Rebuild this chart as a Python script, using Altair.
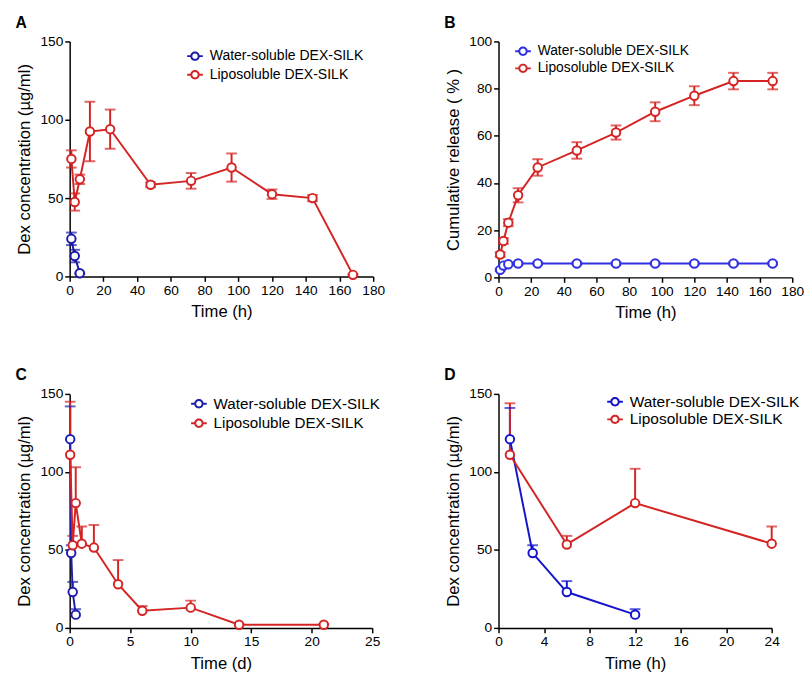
import altair as alt
import pandas as pd

WATER = "Water-soluble DEX-SILK"
LIPO = "Liposoluble DEX-SILK"

# Panel A: concentration (h)
A_water_t = [1, 3, 6]
A_water_v = [24, 13, 2]
A_water_e = [4, 4, 0.5]
A_lipo_t = [1, 3, 6, 12, 24, 48, 72, 96, 120, 144, 168]
A_lipo_v = [75, 47.5, 62, 92.5, 94, 58.5, 61, 69.5, 52.5, 50, 1]
A_lipo_e = [5.5, 5.5, 3, 19, 12.5, 1.5, 5, 9, 3, 2, 0.5]

# Panel B: cumulative release (%)
B_water_t = [1, 3, 6, 12, 24, 48, 72, 96, 120, 144, 168]
B_water_v = [3.2, 5, 5.6, 5.9, 5.9, 5.9, 5.9, 5.9, 5.9, 5.9, 5.9]
B_water_e = [0.5, 0.5, 0.5, 0.5, 0.5, 0.5, 0.5, 0.5, 0.5, 0.5, 0.5]
B_lipo_t = [1, 3, 6, 12, 24, 48, 72, 96, 120, 144, 168]
B_lipo_v = [9.7, 15.4, 23.2, 34.8, 46.6, 53.8, 61.4, 70.2, 77, 83.2, 83.2]
B_lipo_e = [1, 1.2, 1.5, 3, 3.5, 3.5, 3, 4, 4, 3.5, 3.5]

# Panel C: concentration (d), upper error only
C_water_t = [0.042, 0.125, 0.25, 0.5]
C_water_v = [121, 48, 23, 8.5]
C_water_hi = [142, 53, 29.5, 12]
C_lipo_t = [0.042, 0.25, 0.5, 1, 2, 4, 6, 10, 14, 21]
C_lipo_v = [111, 53, 80, 54, 51.5, 28, 11, 13, 2, 2]
C_lipo_hi = [145, 59, 103, 65, 66, 43.5, 14, 17.5, 2.5, 2.5]

# Panel D: concentration (h), upper error only
D_water_t = [1, 3, 6, 12]
D_water_v = [121, 48, 23, 8.5]
D_water_hi = [141, 53, 30, 12]
D_lipo_t = [1, 6, 12, 24]
D_lipo_v = [111, 53.5, 80, 54]
D_lipo_hi = [144, 59, 102, 65]

RED = "#d42424"
FONT = "Liberation Sans"
# legend glyph: short line - open ring - short line (drawn as filled shapes)
SYMBOL = ("M-1,-0.125L-0.55,-0.125L-0.55,0.125L-1,0.125Z"
          "M0.55,-0.125L1,-0.125L1,0.125L0.55,0.125Z"
          "M-0.6,0A0.6,0.6,0,1,1,0.6,0A0.6,0.6,0,1,1,-0.6,0Z"
          "M-0.35,0A0.35,0.35,0,1,0,0.35,0A0.35,0.35,0,1,0,-0.35,0Z")


def frame(series):
    rows = []
    for name, t, v, lo, hi in series:
        for i in range(len(t)):
            rows.append({"t": t[i], "v": v[i], "lo": lo[i], "hi": hi[i], "s": name})
    return pd.DataFrame(rows)


def sym(t, v, e):
    return ([a - b for a, b in zip(v, e)], [a + b for a, b in zip(v, e)])


def panel(df, letter, xdom, xstep, ydom, ystep, xtitle, ytitle, blue,
          w, h, lx, ly, lfs, lrow, both):
    scale = alt.Scale(domain=[WATER, LIPO], range=[blue, RED])
    stroke = alt.Stroke("s:N", scale=scale,
                        legend=alt.Legend(title=None, orient="none", legendX=lx, legendY=ly,
                                          symbolType=SYMBOL, symbolSize=256,
                                          symbolStrokeWidth=0, symbolOpacity=1,
                                          labelFontSize=lfs, labelFont=FONT,
                                          labelColor="black", rowPadding=lrow,
                                          labelOffset=7, labelLimit=400))
    color = alt.Color("s:N", scale=scale, legend=None)
    x = alt.X("t:Q", scale=alt.Scale(domain=xdom, nice=False),
              axis=alt.Axis(values=list(range(xdom[0], xdom[1] + 1, xstep)), title=xtitle,
                            labelOverlap=False, labelFlush=False))
    y = alt.Y("v:Q", scale=alt.Scale(domain=ydom, nice=False),
              axis=alt.Axis(values=list(range(ydom[0], ydom[1] + 1, ystep)), title=ytitle,
                            labelOverlap=False, labelFlush=False))
    base = alt.Chart(df)
    ylo = "lo:Q" if both else "v:Q"
    rule = base.mark_rule(strokeWidth=2).encode(
        x=x, y=alt.Y(ylo), y2="hi:Q", stroke=stroke)
    cap_hi = base.mark_tick(orient="horizontal", size=11, thickness=2).encode(
        x=x, y=alt.Y("hi:Q"), color=color)
    layers = [rule, cap_hi]
    if both:
        cap_lo = base.mark_tick(orient="horizontal", size=11, thickness=2).encode(
            x=x, y=alt.Y("lo:Q"), color=color)
        layers.append(cap_lo)
    line = base.mark_line(strokeWidth=2).encode(x=x, y=y, stroke=stroke)
    pts = base.mark_point(shape="circle", filled=False, fill="white", fillOpacity=1,
                          size=75, strokeWidth=2, opacity=1).encode(x=x, y=y, stroke=stroke)
    layers += [line, pts]
    return alt.layer(*layers).properties(
        width=w, height=h,
        title=alt.TitleParams(letter, anchor="start", frame="bounds", fontSize=16,
                              fontWeight="bold", font=FONT, color="black", offset=4))


lo, hi = sym(A_water_t, A_water_v, A_water_e)
lo2, hi2 = sym(A_lipo_t, A_lipo_v, A_lipo_e)
dfA = frame([(WATER, A_water_t, A_water_v, lo, hi), (LIPO, A_lipo_t, A_lipo_v, lo2, hi2)])
lo, hi = sym(B_water_t, B_water_v, B_water_e)
lo2, hi2 = sym(B_lipo_t, B_lipo_v, B_lipo_e)
dfB = frame([(WATER, B_water_t, B_water_v, lo, hi), (LIPO, B_lipo_t, B_lipo_v, lo2, hi2)])
dfC = frame([(WATER, C_water_t, C_water_v, C_water_v, C_water_hi),
             (LIPO, C_lipo_t, C_lipo_v, C_lipo_v, C_lipo_hi)])
dfD = frame([(WATER, D_water_t, D_water_v, D_water_v, D_water_hi),
             (LIPO, D_lipo_t, D_lipo_v, D_lipo_v, D_lipo_hi)])

pA = panel(dfA, "A", [0, 180], 20, [0, 150], 50, "Time (h)", "Dex concentration (µg/ml)",
           "#1b1ba8", 310, 240, 120, 7, 14.3, 3, True)
pB = panel(dfB, "B", [0, 180], 20, [0, 100], 20, "Time (h)", "Cumulative release ( % )",
           "#3030e0", 300, 241, 17, 2, 14.1, 1.5, True)
pC = panel(dfC, "C", [0, 25], 5, [0, 150], 50, "Time (d)", "Dex concentration (µg/ml)",
           "#1e1eb0", 309, 239, 124, 2, 15.5, 3, False)
pD = panel(dfD, "D", [0, 24], 4, [0, 150], 50, "Time (h)", "Dex concentration (µg/ml)",
           "#1414cc", 279, 239, 111, 0, 15.8, 2, False)

chart = alt.concat(pA, pB, pC, pD, columns=2, spacing={"row": 48, "column": 60}).resolve_scale(
    color="independent", stroke="independent", x="independent", y="independent"
).resolve_legend(color="independent", stroke="independent").configure_axis(
    grid=False, domainColor="black", domainWidth=1.5, tickColor="black", tickWidth=1.5,
    tickSize=5, labelFont=FONT, labelFontSize=14, labelColor="black",
    titleFont=FONT, titleFontSize=17, titleFontWeight="normal", titleColor="black",
    labelPadding=2, titlePadding=7
).configure_view(stroke=None).properties(
    padding={"left": 7, "top": 0, "right": 0, "bottom": 0}, background="white")

chart.save("out.html", embed_options={"renderer": "svg", "actions": False})
